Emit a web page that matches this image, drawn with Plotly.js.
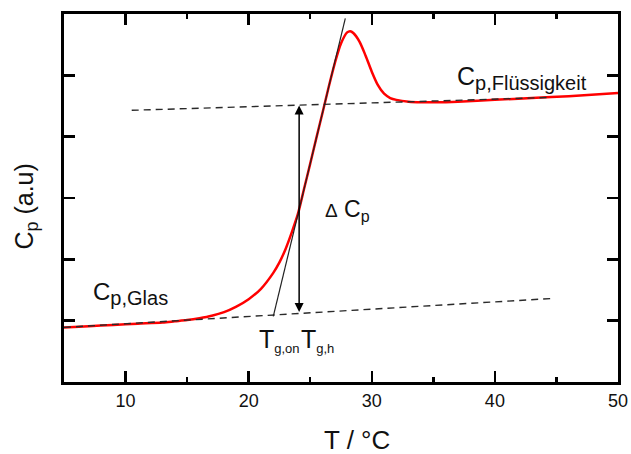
<!DOCTYPE html>
<html>
<head>
<meta charset="utf-8">
<script src="https://cdn.plot.ly/plotly-3.0.1.min.js"></script>
<style>
  html, body { margin: 0; padding: 0; background: #fff; }
  #plot { width: 631px; height: 454px; }
</style>
</head>
<body>
<div id="plot"></div>
<script>
// Heat capacity trace through the glass transition (DSC heating curve)
const temperature = [5, 7, 9, 11, 13, 14, 15, 16, 17, 18, 19, 20, 21, 22, 22.5, 23, 23.5, 24, 24.5, 25, 25.5, 26, 26.5, 27, 27.5, 28, 28.25, 28.5, 29, 29.5, 30, 30.5, 31, 31.5, 32, 33, 34, 35, 37, 40, 43, 46, 50];
const cp = [0.89, 0.91, 0.93, 0.95, 0.97, 0.99, 1.01, 1.04, 1.08, 1.14, 1.23, 1.35, 1.52, 1.78, 1.95, 2.17, 2.44, 2.74, 3.15, 3.56, 3.98, 4.39, 4.81, 5.20, 5.52, 5.70, 5.72, 5.69, 5.55, 5.32, 5.06, 4.84, 4.70, 4.63, 4.60, 4.57, 4.56, 4.56, 4.57, 4.60, 4.63, 4.66, 4.71];

// Extrapolated baselines of the glass and the liquid
const glassLineT = [5, 44.5];
const glassLineCp = [0.89, 1.36];
const liquidLineT = [10.5, 44.5];
const liquidLineCp = [4.43, 4.64];

// Inflection tangent used for the onset temperature
const tangentT = [22.0, 27.85];
const tangentCp = [1.07, 5.93];

// Step height marker at the half-step temperature
const stepT = 24.1;
const stepLow = 1.115;
const stepHigh = 4.51;

const xTicks = [10, 20, 30, 40, 50];
const yTicks = [1, 2, 3, 4, 5];

const FONT = 'Arial, "Liberation Sans", sans-serif';

const traces = [
  { x: temperature, y: cp, mode: 'lines', line: { color: '#ff0000', width: 2.5, shape: 'spline', smoothing: 0.8 }, hoverinfo: 'skip' },
  { x: glassLineT, y: glassLineCp, mode: 'lines', line: { color: '#2a2a2a', width: 1.4, dash: '7px,5px' }, hoverinfo: 'skip' },
  { x: liquidLineT, y: liquidLineCp, mode: 'lines', line: { color: '#2a2a2a', width: 1.4, dash: '7px,5px' }, hoverinfo: 'skip' },
  { x: tangentT, y: tangentCp, mode: 'lines', line: { color: '#222', width: 1.2 }, hoverinfo: 'skip' }
];

const axisCommon = {
  showgrid: false, zeroline: false, showline: true, linecolor: '#000', linewidth: 3,
  mirror: 'ticks', ticks: 'inside', ticklen: 11, tickwidth: 2.5, tickcolor: '#000'
};

const sub = (s, size) => '<sub><span style="font-size:' + size + 'px">' + s + '</span></sub>';

const layout = {
  width: 631, height: 454,
  margin: { l: 64, r: 13, t: 14, b: 72 },
  paper_bgcolor: '#fff', plot_bgcolor: '#fff',
  showlegend: false,
  font: { family: FONT, color: '#111' },
  xaxis: Object.assign({}, axisCommon, {
    range: [5, 50], tickvals: xTicks, ticktext: xTicks.map(String),
    tickfont: { size: 18, family: FONT, color: '#111' },
    minor: { dtick: 5, tick0: 0, ticks: 'inside', ticklen: 5, tickwidth: 2.5, tickcolor: '#000' }
  }),
  yaxis: Object.assign({}, axisCommon, {
    range: [0, 6], tickvals: yTicks, showticklabels: false
  }),
  annotations: [
    { xref: 'x', yref: 'y', x: stepT, y: stepHigh, ax: stepT, ay: stepLow, axref: 'x', ayref: 'y',
      text: '', showarrow: true, arrowhead: 2, startarrowhead: 2, arrowside: 'end+start',
      arrowsize: 1.2, arrowwidth: 1.5, arrowcolor: '#000', standoff: 0, startstandoff: 0 },
    { xref: 'x', yref: 'y', x: 7.2, y: 1.45, xanchor: 'left', yanchor: 'middle', showarrow: false,
      text: 'C' + sub('p,Glas', 20), font: { size: 24, family: FONT, color: '#111' } },
    { xref: 'x', yref: 'y', x: 36.8, y: 4.95, xanchor: 'left', yanchor: 'middle', showarrow: false,
      text: 'C' + sub('p,Flüssigkeit', 20), font: { size: 25, family: FONT, color: '#111' } },
    { xref: 'x', yref: 'y', x: 26.05, y: 2.8, xanchor: 'left', yanchor: 'middle', showarrow: false,
      text: '<span style="font-size:19px">Δ</span> C' + sub('p', 16), font: { size: 23, family: FONT, color: '#111' } },
    { xref: 'x', yref: 'y', x: 20.7, y: 0.68, xanchor: 'left', yanchor: 'middle', showarrow: false,
      text: 'T' + sub('g,on', 13), font: { size: 25, family: FONT, color: '#111' } },
    { xref: 'x', yref: 'y', x: 24.05, y: 0.68, xanchor: 'left', yanchor: 'middle', showarrow: false,
      text: 'T' + sub('g,h', 13), font: { size: 25, family: FONT, color: '#111' } },
    { xref: 'paper', yref: 'paper', x: 0.529, y: -0.158, xanchor: 'center', yanchor: 'middle', showarrow: false,
      text: 'T / °C', font: { size: 26, family: FONT, color: '#111' } },
    { xref: 'paper', yref: 'paper', x: -0.069, y: 0.476, xanchor: 'center', yanchor: 'middle', showarrow: false,
      textangle: -90, text: 'C' + sub('p', 18) + ' (a.u)', font: { size: 25, family: FONT, color: '#111' } }
  ]
};

Plotly.newPlot('plot', traces, layout, { staticPlot: true, displayModeBar: false });
</script>
</body>
</html>
